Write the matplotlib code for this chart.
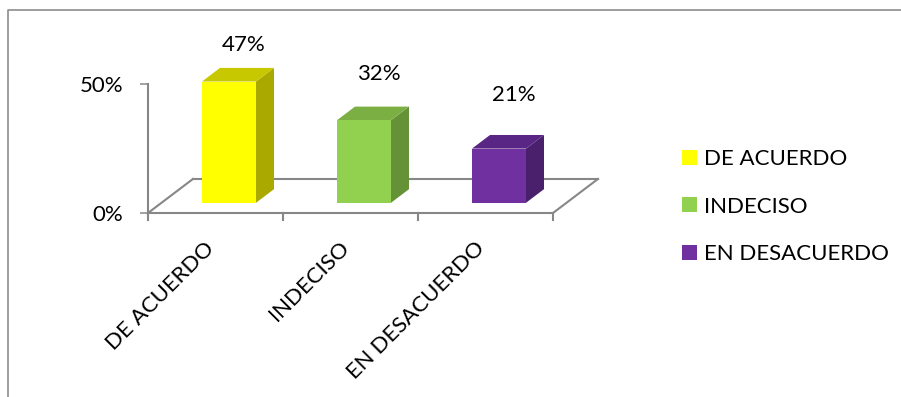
import matplotlib
matplotlib.use("Agg")
import matplotlib.pyplot as plt
from matplotlib.patches import Rectangle, Polygon, Patch
from matplotlib.lines import Line2D
from matplotlib.transforms import offset_copy

# --- Data ---
categories = ['DE ACUERDO', 'INDECISO', 'EN DESACUERDO']
percentages = [47, 32, 21]

# front / top / side shades for each column
front_colors = ['#FFFF00', '#92D050', '#7030A0']
top_colors = ['#C8C800', '#7BAF43', '#5A2685']
side_colors = ['#A9A900', '#659137', '#4A1F6C']

plt.rcParams['font.family'] = ['Lato', 'DejaVu Sans']
W, H = 901, 397
FS = 16
GRID = '#878787'

fig = plt.figure(figsize=(W / 100, H / 100), dpi=100)
# axes cover the front plane of the 3D box: x in category units, y in percent
ax = fig.add_axes([148 / W, 1 - 213 / H, (553 - 148) / W, (213 - 84) / H])
ax.set_xlim(-0.5, 2.5)
ax.set_ylim(0, 50)

# depth of the floor in data units
DX = 1 / 3
DY = 13.2
bar_w = 0.4
d0, d1 = 0.3, 0.7  # bars occupy the middle of the depth

# floor outline
n = len(categories)
ax.plot([-0.5, 2.5], [0, 0], color=GRID, lw=1.5, clip_on=False, zorder=1)
ax.plot([-0.5 + DX, n - 0.5 + DX], [DY, DY], color=GRID, lw=1.5, clip_on=False, zorder=1)
ax.plot([-0.5, -0.5 + DX], [0, DY], color=GRID, lw=1.5, clip_on=False, zorder=1)
ax.plot([n - 0.5, n - 0.5 + DX], [0, DY], color=GRID, lw=1.5, clip_on=False, zorder=1)
for b in range(n + 1):
    ax.plot([b - 0.5, b - 0.5], [0, -2.8], color=GRID, lw=1.5, clip_on=False, zorder=1)

# 3D columns
for i, v in enumerate(percentages):
    x0 = i - bar_w / 2 + d0 * DX
    y0 = d0 * DY
    dx = (d1 - d0) * DX
    dy = (d1 - d0) * DY
    x1 = x0 + bar_w
    ax.add_patch(Polygon([(x1, y0), (x1 + dx, y0 + dy), (x1 + dx, y0 + dy + v), (x1, y0 + v)],
                         closed=True, facecolor=side_colors[i], edgecolor='none',
                         clip_on=False, zorder=3))
    ax.add_patch(Polygon([(x0, y0 + v), (x0 + dx, y0 + v + dy), (x1 + dx, y0 + v + dy), (x1, y0 + v)],
                         closed=True, facecolor=top_colors[i], edgecolor='none',
                         clip_on=False, zorder=3))
    ax.add_patch(Rectangle((x0, y0), bar_w, v, facecolor=front_colors[i],
                           edgecolor='none', clip_on=False, zorder=4))
    # value labels sit on a compressed scale above the columns
    ax.text(i + 0.21, 30 + 0.75 * v, f'{v}%', ha='center', va='center',
            fontsize=FS, color='black')

# value axis
for s in ['top', 'right', 'bottom']:
    ax.spines[s].set_visible(False)
ax.spines['left'].set_color(GRID)
ax.spines['left'].set_linewidth(1.5)
ax.set_yticks([0, 50])
ax.set_yticklabels(['0%', '50%'])
ax.tick_params(axis='y', length=5.8, width=1.1, color=GRID, pad=12, labelsize=FS)
ax.set_xticks([])

# category labels, rotated
lab_tr = offset_copy(ax.transData, fig=fig, x=3, y=-25, units='dots')
for i, c in enumerate(categories):
    ax.text(i, 0, c, rotation=45, ha='right', va='top', fontsize=FS,
            transform=lab_tr, clip_on=False)

# legend
handles = [Patch(facecolor=front_colors[i], edgecolor='none') for i in range(n)]
fig.legend(handles, categories, loc='upper left', bbox_to_anchor=(682 / W, 1 - 149 / H),
           frameon=False, fontsize=FS, handlelength=0.68, handleheight=0.68,
           handletextpad=0.32, labelspacing=1.24, borderpad=0, borderaxespad=0)

# chart area border (left and top edges)
fig.add_artist(Line2D([8 / W, 8 / W, 1], [0, 1 - 10 / H, 1 - 10 / H],
                      transform=fig.transFigure, color='#8C8C8C', lw=1.2))

fig.savefig('out.png', dpi=100)
